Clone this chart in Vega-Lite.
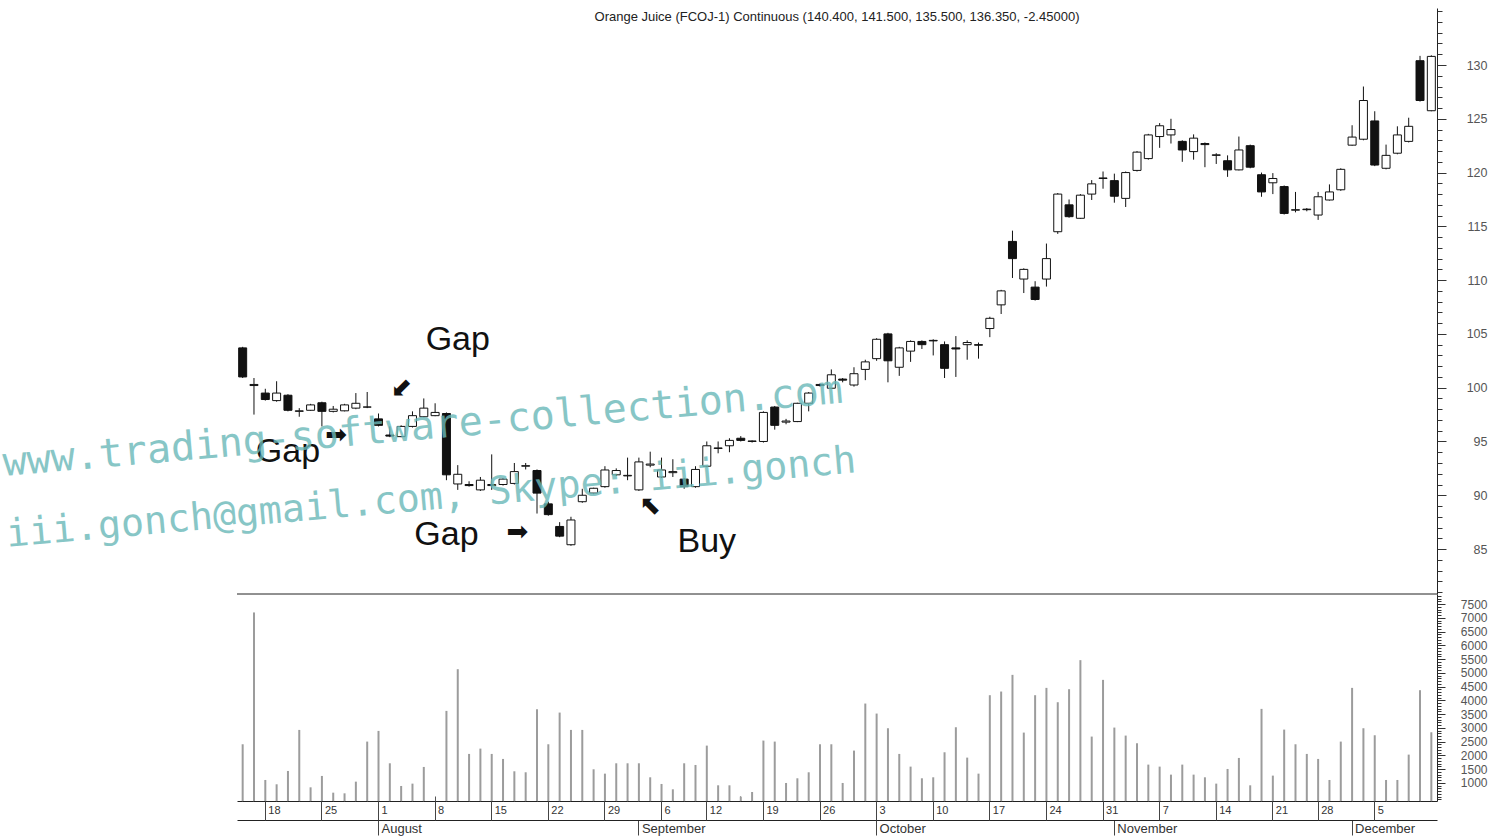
{
  "$schema": "https://vega.github.io/schema/vega-lite/v6.json",
  "width": 1200,
  "height": 793,
  "padding": {"left": 237, "top": 8, "right": 60, "bottom": 39},
  "autosize": {"type": "none"},
  "background": "white",
  "config": {"view": {"stroke": null}, "axis": {"grid": false}},
  "title": {"text": "Orange Juice (FCOJ-1) Continuous (140.400, 141.500, 135.500, 136.350, -2.45000)", "frame": "group", "anchor": "middle", "offset": -22, "baseline": "middle", "fontSize": 13, "fontWeight": "normal", "font": "Liberation Sans", "color": "#222"},
  "datasets": {
    "ohlc": [
      {"d":"2005-07-14","o":103.7,"h":103.8,"l":100.9,"c":101.0,"v":2406},
      {"d":"2005-07-15","o":100.2,"h":100.9,"l":97.5,"c":100.3,"v":7194},
      {"d":"2005-07-18","o":99.5,"h":99.9,"l":98.8,"c":98.9,"v":1109},
      {"d":"2005-07-19","o":98.8,"h":100.6,"l":98.7,"c":99.5,"v":952},
      {"d":"2005-07-20","o":99.3,"h":99.4,"l":97.8,"c":97.9,"v":1436},
      {"d":"2005-07-21","o":97.8,"h":98.1,"l":97.3,"c":97.85,"v":2927},
      {"d":"2005-07-22","o":97.9,"h":98.5,"l":97.85,"c":98.4,"v":842},
      {"d":"2005-07-25","o":98.6,"h":98.7,"l":96.4,"c":97.8,"v":1255},
      {"d":"2005-07-26","o":97.8,"h":98.3,"l":97.7,"c":98.0,"v":648},
      {"d":"2005-07-27","o":97.85,"h":98.5,"l":97.8,"c":98.4,"v":624},
      {"d":"2005-07-28","o":98.1,"h":99.5,"l":98.0,"c":98.55,"v":1048},
      {"d":"2005-07-29","o":98.2,"h":99.6,"l":98.1,"c":98.2,"v":2503},
      {"d":"2005-08-01","o":97.1,"h":97.6,"l":96.4,"c":96.5,"v":2891},
      {"d":"2005-08-02","o":95.6,"h":96.4,"l":95.4,"c":95.5,"v":1715},
      {"d":"2005-08-03","o":95.45,"h":96.5,"l":95.4,"c":96.4,"v":891},
      {"d":"2005-08-04","o":96.4,"h":97.8,"l":96.3,"c":97.4,"v":976},
      {"d":"2005-08-05","o":97.3,"h":99.0,"l":97.25,"c":98.1,"v":1582},
      {"d":"2005-08-08","o":97.4,"h":98.55,"l":97.35,"c":97.7,"v":null},
      {"d":"2005-08-09","o":97.6,"h":97.7,"l":91.4,"c":91.9,"v":3618},
      {"d":"2005-08-10","o":91.05,"h":92.8,"l":90.5,"c":91.95,"v":5133},
      {"d":"2005-08-11","o":91.0,"h":91.3,"l":90.8,"c":90.9,"v":2055},
      {"d":"2005-08-12","o":90.5,"h":91.7,"l":90.4,"c":91.4,"v":2248},
      {"d":"2005-08-15","o":90.9,"h":93.8,"l":90.5,"c":91.0,"v":2055},
      {"d":"2005-08-16","o":91.0,"h":91.6,"l":90.9,"c":91.5,"v":1873},
      {"d":"2005-08-17","o":91.1,"h":93.0,"l":91.0,"c":92.2,"v":1424},
      {"d":"2005-08-18","o":92.7,"h":93.0,"l":92.4,"c":92.75,"v":1388},
      {"d":"2005-08-19","o":92.3,"h":92.4,"l":88.3,"c":90.2,"v":3679},
      {"d":"2005-08-22","o":89.2,"h":89.4,"l":88.1,"c":88.2,"v":2406},
      {"d":"2005-08-23","o":87.1,"h":87.5,"l":86.1,"c":86.2,"v":3557},
      {"d":"2005-08-24","o":85.4,"h":88.0,"l":85.3,"c":87.7,"v":2927},
      {"d":"2005-08-25","o":89.4,"h":90.6,"l":89.3,"c":90.0,"v":2927},
      {"d":"2005-08-26","o":90.2,"h":90.7,"l":90.1,"c":90.65,"v":1497},
      {"d":"2005-08-29","o":90.8,"h":92.7,"l":90.7,"c":92.35,"v":1339},
      {"d":"2005-08-30","o":91.9,"h":92.5,"l":91.8,"c":92.3,"v":1715},
      {"d":"2005-08-31","o":91.8,"h":93.5,"l":91.4,"c":91.85,"v":1715},
      {"d":"2005-09-01","o":90.5,"h":93.5,"l":90.4,"c":93.1,"v":1715},
      {"d":"2005-09-02","o":92.8,"h":94.05,"l":92.6,"c":92.9,"v":1206},
      {"d":"2005-09-06","o":91.7,"h":93.5,"l":91.6,"c":92.35,"v":964},
      {"d":"2005-09-07","o":92.1,"h":93.35,"l":91.7,"c":92.2,"v":770},
      {"d":"2005-09-08","o":91.5,"h":91.6,"l":90.6,"c":90.8,"v":1715},
      {"d":"2005-09-09","o":90.8,"h":92.7,"l":90.7,"c":92.4,"v":1654},
      {"d":"2005-09-12","o":92.7,"h":95.0,"l":92.6,"c":94.6,"v":2357},
      {"d":"2005-09-13","o":94.35,"h":95.0,"l":93.9,"c":94.4,"v":915},
      {"d":"2005-09-14","o":94.6,"h":95.3,"l":94.0,"c":95.1,"v":915},
      {"d":"2005-09-15","o":95.3,"h":95.5,"l":95.0,"c":95.1,"v":503},
      {"d":"2005-09-16","o":95.0,"h":95.1,"l":94.9,"c":95.05,"v":673},
      {"d":"2005-09-19","o":95.0,"h":97.8,"l":94.9,"c":97.7,"v":2539},
      {"d":"2005-09-20","o":98.2,"h":98.3,"l":96.1,"c":96.5,"v":2503},
      {"d":"2005-09-21","o":96.8,"h":97.1,"l":96.6,"c":96.9,"v":1000},
      {"d":"2005-09-22","o":96.85,"h":98.6,"l":96.8,"c":98.55,"v":1170},
      {"d":"2005-09-23","o":98.55,"h":99.6,"l":97.8,"c":99.5,"v":1388},
      {"d":"2005-09-26","o":100.2,"h":100.4,"l":100.1,"c":100.3,"v":2406},
      {"d":"2005-09-27","o":99.95,"h":101.7,"l":99.9,"c":101.2,"v":2406},
      {"d":"2005-09-28","o":100.8,"h":100.9,"l":100.5,"c":100.7,"v":1000},
      {"d":"2005-09-29","o":100.25,"h":101.9,"l":100.1,"c":101.3,"v":2176},
      {"d":"2005-09-30","o":101.7,"h":102.6,"l":100.7,"c":102.4,"v":3885},
      {"d":"2005-10-03","o":102.7,"h":104.6,"l":102.5,"c":104.5,"v":3521},
      {"d":"2005-10-04","o":105.0,"h":105.1,"l":100.5,"c":102.5,"v":2988},
      {"d":"2005-10-05","o":101.9,"h":103.8,"l":101.1,"c":103.7,"v":2055},
      {"d":"2005-10-06","o":103.4,"h":104.4,"l":102.4,"c":104.3,"v":1594},
      {"d":"2005-10-07","o":104.3,"h":104.4,"l":103.6,"c":104.0,"v":1170},
      {"d":"2005-10-10","o":104.4,"h":104.5,"l":103.0,"c":104.35,"v":1206},
      {"d":"2005-10-11","o":104.0,"h":104.3,"l":100.9,"c":101.8,"v":2115},
      {"d":"2005-10-12","o":103.7,"h":104.8,"l":101.0,"c":103.6,"v":3024},
      {"d":"2005-10-13","o":104.0,"h":104.4,"l":102.6,"c":104.2,"v":1921},
      {"d":"2005-10-14","o":104.0,"h":104.2,"l":102.7,"c":103.95,"v":1339},
      {"d":"2005-10-17","o":105.5,"h":106.6,"l":104.7,"c":106.45,"v":4188},
      {"d":"2005-10-18","o":107.7,"h":109.1,"l":106.85,"c":109.0,"v":4321},
      {"d":"2005-10-19","o":113.6,"h":114.6,"l":110.2,"c":112.0,"v":4927},
      {"d":"2005-10-20","o":110.1,"h":111.1,"l":108.8,"c":111.0,"v":2830},
      {"d":"2005-10-21","o":109.35,"h":109.9,"l":108.1,"c":108.2,"v":4188},
      {"d":"2005-10-24","o":110.1,"h":113.4,"l":109.4,"c":112.0,"v":4454},
      {"d":"2005-10-25","o":114.5,"h":118.1,"l":114.3,"c":118.0,"v":3933},
      {"d":"2005-10-26","o":117.0,"h":117.5,"l":115.8,"c":115.9,"v":4406},
      {"d":"2005-10-27","o":115.75,"h":118.0,"l":115.7,"c":117.9,"v":5461},
      {"d":"2005-10-28","o":118.0,"h":119.3,"l":117.45,"c":118.95,"v":2685},
      {"d":"2005-10-31","o":119.45,"h":120.1,"l":118.5,"c":119.5,"v":4745},
      {"d":"2005-11-01","o":119.25,"h":119.9,"l":117.2,"c":117.8,"v":3012},
      {"d":"2005-11-02","o":117.6,"h":120.1,"l":116.8,"c":120.0,"v":2721},
      {"d":"2005-11-03","o":120.2,"h":122.0,"l":120.1,"c":121.9,"v":2442},
      {"d":"2005-11-04","o":121.3,"h":123.6,"l":121.2,"c":123.5,"v":1667},
      {"d":"2005-11-07","o":123.35,"h":124.6,"l":122.3,"c":124.35,"v":1594},
      {"d":"2005-11-08","o":123.5,"h":125.0,"l":122.7,"c":124.0,"v":1303},
      {"d":"2005-11-09","o":122.9,"h":123.0,"l":121.0,"c":122.1,"v":1667},
      {"d":"2005-11-10","o":121.95,"h":123.55,"l":121.2,"c":123.2,"v":1303},
      {"d":"2005-11-11","o":122.7,"h":122.8,"l":120.5,"c":122.6,"v":1206},
      {"d":"2005-11-14","o":121.6,"h":121.8,"l":120.8,"c":121.65,"v":976},
      {"d":"2005-11-15","o":121.1,"h":121.6,"l":119.6,"c":120.25,"v":1509},
      {"d":"2005-11-16","o":120.25,"h":123.35,"l":120.2,"c":122.1,"v":1909},
      {"d":"2005-11-17","o":122.5,"h":122.6,"l":120.4,"c":120.5,"v":915},
      {"d":"2005-11-18","o":119.8,"h":120.0,"l":117.75,"c":118.2,"v":3691},
      {"d":"2005-11-21","o":119.05,"h":119.95,"l":118.0,"c":119.45,"v":1267},
      {"d":"2005-11-22","o":118.7,"h":118.8,"l":116.1,"c":116.2,"v":2939},
      {"d":"2005-11-23","o":116.5,"h":118.2,"l":116.3,"c":116.55,"v":2406},
      {"d":"2005-11-25","o":116.6,"h":116.7,"l":116.4,"c":116.55,"v":2055},
      {"d":"2005-11-28","o":116.05,"h":118.2,"l":115.6,"c":117.75,"v":1873},
      {"d":"2005-11-29","o":117.45,"h":118.9,"l":117.4,"c":118.2,"v":1109},
      {"d":"2005-11-30","o":118.4,"h":120.4,"l":118.3,"c":120.3,"v":2503},
      {"d":"2005-12-01","o":122.55,"h":124.4,"l":122.5,"c":123.3,"v":4454},
      {"d":"2005-12-02","o":123.1,"h":128.0,"l":123.0,"c":126.7,"v":2988},
      {"d":"2005-12-05","o":124.8,"h":125.7,"l":120.6,"c":120.7,"v":2733},
      {"d":"2005-12-06","o":120.4,"h":122.6,"l":120.3,"c":121.6,"v":1109},
      {"d":"2005-12-07","o":121.8,"h":124.3,"l":121.7,"c":123.5,"v":1109},
      {"d":"2005-12-08","o":122.9,"h":125.1,"l":122.8,"c":124.3,"v":2030},
      {"d":"2005-12-09","o":130.4,"h":130.85,"l":126.6,"c":126.7,"v":4370},
      {"d":"2005-12-12","o":125.75,"h":130.9,"l":125.7,"c":130.8,"v":2842}
    ],
    "labels": [
      {"d":"2005-08-10","p":103.5,"t":"Gap"},
      {"d":"2005-07-20","p":93.1,"t":"Gap"},
      {"d":"2005-08-09","p":85.4,"t":"Gap"},
      {"d":"2005-09-12","p":84.7,"t":"Buy"}
    ],
    "rightArrows": [
      {"d":"2005-07-26","p":95.6,"t":"➡"},
      {"d":"2005-08-17","p":86.6,"t":"➡"}
    ],
    "downLeftArrows": [
      {"d":"2005-08-03","p":99.97,"t":"➡"}
    ],
    "upLeftArrows": [
      {"d":"2005-09-02","p":89.0,"t":"➡"}
    ],
    "watermark1": [
      {"d":"2005-08-05","p":95.2,"t":"www.trading-software-collection.com"}
    ],
    "watermark2": [
      {"d":"2005-08-08","p":88.7,"t":"iii.gonch@gmail.com, Skype: iii.gonch"}
    ]
  },
  "resolve": {"scale": {"y": "independent"}, "axis": {"x": "independent", "y": "independent"}},
  "layer": [
    {
      "data": {"name": "ohlc"},
      "layer": [
        {
          "mark": {"type": "rule", "color": "#111", "strokeWidth": 1},
          "encoding": {
            "x": {"field": "d", "type": "ordinal", "scale": {"type": "band", "paddingInner": 0, "paddingOuter": 0},
              "axis": {"orient": "bottom", "title": null, "values": ["2005-08-01","2005-09-01","2005-10-03","2005-11-01","2005-12-01"], "labelExpr": "utcFormat(toDate(datum.value), '%B')", "offset": 19, "domain": true, "domainColor": "#222", "tickSize": 15, "tickColor": "#444", "bandPosition": 0.5, "labelAlign": "left", "labelOffset": 3, "labelPadding": -7, "labelBaseline": "middle", "labelAngle": 0, "labelFont": "Liberation Sans", "labelFontSize": 13, "labelColor": "#333", "labelOverlap": false}},
            "y": {"field": "l", "type": "quantitative", "scale": {"domain": [80.82, 135.3], "range": [586, 0], "nice": false, "zero": false},
              "axis": {"orient": "right", "title": null, "values": [85,90,95,100,105,110,115,120,125,130], "tickSize": 9, "tickColor": "#333", "domainColor": "#222", "labelAlign": "right", "labelPadding": 41, "labelBaseline": "middle", "labelFont": "Liberation Sans", "labelFontSize": 12.5, "labelColor": "#555", "labelOverlap": false, "labelFlush": false}},
            "y2": {"field": "h"}
          }
        },
        {
          "mark": {"type": "bar", "width": 8, "stroke": "#111", "strokeWidth": 1},
          "encoding": {
            "x": {"field": "d", "type": "ordinal"},
            "y": {"field": "o", "type": "quantitative"},
            "y2": {"field": "c"},
            "fill": {"condition": {"test": "datum.c < datum.o", "value": "#111"}, "value": "white"}
          }
        },
        {
          "data": {"values": [{}]},
          "mark": {"type": "rule", "color": "#222", "strokeWidth": 1},
          "encoding": {"y": {"datum": 80.82, "type": "quantitative"}}
        },
        {
          "data": {"name": "labels"},
          "mark": {"type": "text", "font": "Liberation Sans", "fontSize": 34, "color": "#111", "align": "center", "baseline": "alphabetic"},
          "encoding": {"x": {"field": "d", "type": "ordinal"}, "y": {"field": "p", "type": "quantitative"}, "text": {"field": "t"}}
        },
        {
          "data": {"name": "rightArrows"},
          "mark": {"type": "text", "font": "DejaVu Sans", "fontSize": 26, "color": "#111", "align": "center", "baseline": "middle", "dx": 3},
          "encoding": {"x": {"field": "d", "type": "ordinal"}, "y": {"field": "p", "type": "quantitative"}, "text": {"field": "t"}}
        },
        {
          "data": {"name": "downLeftArrows"},
          "mark": {"type": "text", "font": "DejaVu Sans", "fontSize": 26, "color": "#111", "align": "center", "baseline": "middle", "angle": 135},
          "encoding": {"x": {"field": "d", "type": "ordinal"}, "y": {"field": "p", "type": "quantitative"}, "text": {"field": "t"}}
        },
        {
          "data": {"name": "upLeftArrows"},
          "mark": {"type": "text", "font": "DejaVu Sans", "fontSize": 26, "color": "#111", "align": "center", "baseline": "middle", "angle": 225},
          "encoding": {"x": {"field": "d", "type": "ordinal"}, "y": {"field": "p", "type": "quantitative"}, "text": {"field": "t"}}
        },
        {
          "data": {"name": "watermark1"},
          "mark": {"type": "text", "font": "DejaVu Sans Mono", "fontSize": 40, "color": "#6ab8b8", "opacity": 0.8, "align": "center", "baseline": "alphabetic", "angle": -5},
          "encoding": {"x": {"field": "d", "type": "ordinal"}, "y": {"field": "p", "type": "quantitative"}, "text": {"field": "t"}}
        },
        {
          "data": {"name": "watermark2"},
          "mark": {"type": "text", "font": "DejaVu Sans Mono", "fontSize": 38.3, "color": "#6ab8b8", "opacity": 0.8, "align": "center", "baseline": "alphabetic", "angle": -5, "dx": -3},
          "encoding": {"x": {"field": "d", "type": "ordinal"}, "y": {"field": "p", "type": "quantitative"}, "text": {"field": "t"}}
        }
      ]
    },
    {
      "data": {"name": "ohlc"},
      "mark": {"type": "rule", "color": "#9c9c9c", "strokeWidth": 2},
      "encoding": {
        "x": {"field": "d", "type": "ordinal",
          "axis": {"orient": "bottom", "title": null, "values": ["2005-07-18","2005-07-25","2005-08-01","2005-08-08","2005-08-15","2005-08-22","2005-08-29","2005-09-06","2005-09-12","2005-09-19","2005-09-26","2005-10-03","2005-10-10","2005-10-17","2005-10-24","2005-10-31","2005-11-07","2005-11-14","2005-11-21","2005-11-28","2005-12-05"], "labelExpr": "toNumber(slice(datum.value, 8))", "domain": true, "domainColor": "#222", "tickSize": 19, "tickColor": "#444", "bandPosition": 0.5, "labelAlign": "left", "labelOffset": 3, "labelPadding": -10, "labelBaseline": "middle", "labelAngle": 0, "labelFont": "Liberation Sans", "labelFontSize": 11, "labelColor": "#333", "labelOverlap": false}},
        "y": {"field": "v", "type": "quantitative", "scale": {"domain": [345, 7864], "range": [793, 586], "nice": false, "zero": false},
          "axis": {"orient": "right", "title": null, "format": "d", "values": [1000,1500,2000,2500,3000,3500,4000,4500,5000,5500,6000,6500,7000,7500], "tickSize": 8, "tickColor": "#333", "domainColor": "#222", "labelAlign": "right", "labelPadding": 42, "labelBaseline": "middle", "labelFont": "Liberation Sans", "labelFontSize": 12, "labelColor": "#555", "labelOverlap": false, "labelFlush": false}},
        "y2": {"datum": 345}
      }
    },
    {
      "data": {"name": "ohlc"},
      "mark": {"type": "point", "opacity": 0},
      "encoding": {
        "x": {"field": "d", "type": "ordinal",
          "axis": {"orient": "bottom", "title": null, "labels": false, "domain": false, "offset": -5, "tickSize": 5, "tickColor": "#555", "bandPosition": 0.5}},
        "y": {"field": "h", "type": "quantitative", "scale": {"domain": [80.82, 135.3], "range": [586, 0], "nice": false, "zero": false},
          "axis": {"orient": "right", "title": null, "labels": false, "domain": false, "tickSize": 5, "tickColor": "#333", "values": [81,82,83,84,85,86,87,88,89,90,91,92,93,94,95,96,97,98,99,100,101,102,103,104,105,106,107,108,109,110,111,112,113,114,115,116,117,118,119,120,121,122,123,124,125,126,127,128,129,130,131,132,133,134,135]}}
      }
    },
    {
      "data": {"name": "ohlc"},
      "mark": {"type": "point", "opacity": 0},
      "encoding": {
        "x": {"field": "d", "type": "ordinal", "axis": null},
        "y": {"field": "v", "type": "quantitative", "scale": {"domain": [345, 7864], "range": [793, 586], "nice": false, "zero": false},
          "axis": {"orient": "right", "title": null, "labels": false, "domain": false, "tickSize": 4, "tickColor": "#333", "values": [400,500,600,700,800,900,1000,1100,1200,1300,1400,1500,1600,1700,1800,1900,2000,2100,2200,2300,2400,2500,2600,2700,2800,2900,3000,3100,3200,3300,3400,3500,3600,3700,3800,3900,4000,4100,4200,4300,4400,4500,4600,4700,4800,4900,5000,5100,5200,5300,5400,5500,5600,5700,5800,5900,6000,6100,6200,6300,6400,6500,6600,6700,6800,6900,7000,7100,7200,7300,7400,7500,7600,7700,7800]}}
      }
    }
  ]
}
